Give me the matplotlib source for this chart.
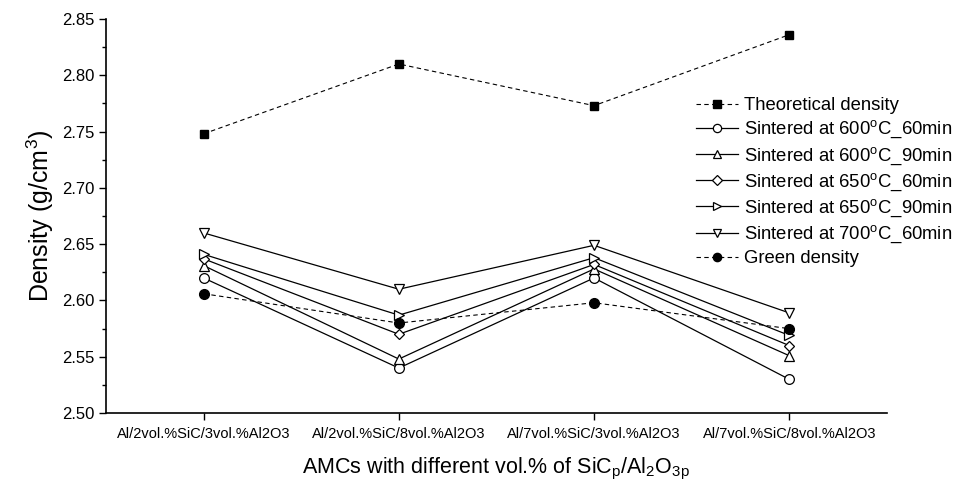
import matplotlib

matplotlib.use("Agg")
import matplotlib.pyplot as plt
from matplotlib.ticker import MultipleLocator, FormatStrFormatter

plt.rcParams["font.family"] = ["Liberation Sans", "DejaVu Sans"]
plt.rcParams["mathtext.fontset"] = "custom"
plt.rcParams["mathtext.rm"] = "Liberation Sans"
plt.rcParams["mathtext.it"] = "Liberation Sans:italic"

# composites on the x axis
categories = [
    "Al/2vol.%SiC/3vol.%Al2O3",
    "Al/2vol.%SiC/8vol.%Al2O3",
    "Al/7vol.%SiC/3vol.%Al2O3",
    "Al/7vol.%SiC/8vol.%Al2O3",
]

# densities in g/cm^3
theoretical = [2.748, 2.810, 2.773, 2.836]
s600_60 = [2.620, 2.540, 2.620, 2.530]
s600_90 = [2.631, 2.548, 2.628, 2.551]
s650_60 = [2.637, 2.570, 2.632, 2.560]
s650_90 = [2.641, 2.587, 2.638, 2.569]
s700_60 = [2.660, 2.610, 2.649, 2.589]
green = [2.606, 2.580, 2.598, 2.575]

x = list(range(1, len(categories) + 1))

fig = plt.figure(figsize=(9.58, 4.86), dpi=100)
ax = fig.add_axes([0.1107, 0.150, 0.815, 0.811])

dash = (0, (4, 3))
ax.plot(x, theoretical, color="black", lw=0.8, ls=dash, marker="s", ms=6,
        mfc="black", mec="black", label="Theoretical density")

open_series = [
    (s600_60, "o", "Sintered at 600$^{\\mathrm{o}}$C_60min"),
    (s600_90, "^", "Sintered at 600$^{\\mathrm{o}}$C_90min"),
    (s650_60, "D", "Sintered at 650$^{\\mathrm{o}}$C_60min"),
    (s650_90, ">", "Sintered at 650$^{\\mathrm{o}}$C_90min"),
    (s700_60, "v", "Sintered at 700$^{\\mathrm{o}}$C_60min"),
]
for vals, mk, lab in open_series:
    ax.plot(x, vals, color="black", lw=0.9, marker=mk,
            ms=5.5 if mk == "D" else 7, mfc="white", mec="black", mew=0.9,
            label=lab)

ax.plot(x, green, color="black", lw=0.8, ls=dash, marker="o", ms=7,
        mfc="black", mec="black", label="Green density")

ax.set_xlim(0.5, 4.5)
ax.set_ylim(2.50, 2.85)
ax.set_xticks(x)
ax.set_xticklabels(categories, fontsize=10.5)
ax.yaxis.set_major_locator(MultipleLocator(0.05))
ax.yaxis.set_minor_locator(MultipleLocator(0.025))
ax.yaxis.set_major_formatter(FormatStrFormatter("%.2f"))
ax.tick_params(axis="y", labelsize=12, direction="out", length=5, width=1)
ax.tick_params(axis="y", which="minor", direction="out", length=3, width=1)
ax.tick_params(axis="x", direction="out", length=5, width=1, pad=5)

for side in ("top", "right"):
    ax.spines[side].set_visible(False)
for side in ("left", "bottom"):
    ax.spines[side].set_linewidth(1.2)

ax.set_ylabel("Density (g/cm$^{3}$)", fontsize=18, labelpad=4)
ax.set_xlabel("AMCs with different vol.% of SiC$_{\\mathrm{p}}$/Al$_{\\mathrm{2}}$O$_{\\mathrm{3p}}$",
              fontsize=15.5, labelpad=11)

ax.legend(loc="upper left", bbox_to_anchor=(0.746, 0.82), frameon=False,
          fontsize=13.3, handlelength=2.3, handletextpad=0.3, labelspacing=0.26,
          borderaxespad=0, markerscale=0.85)

fig.savefig("out.png", dpi=100)
